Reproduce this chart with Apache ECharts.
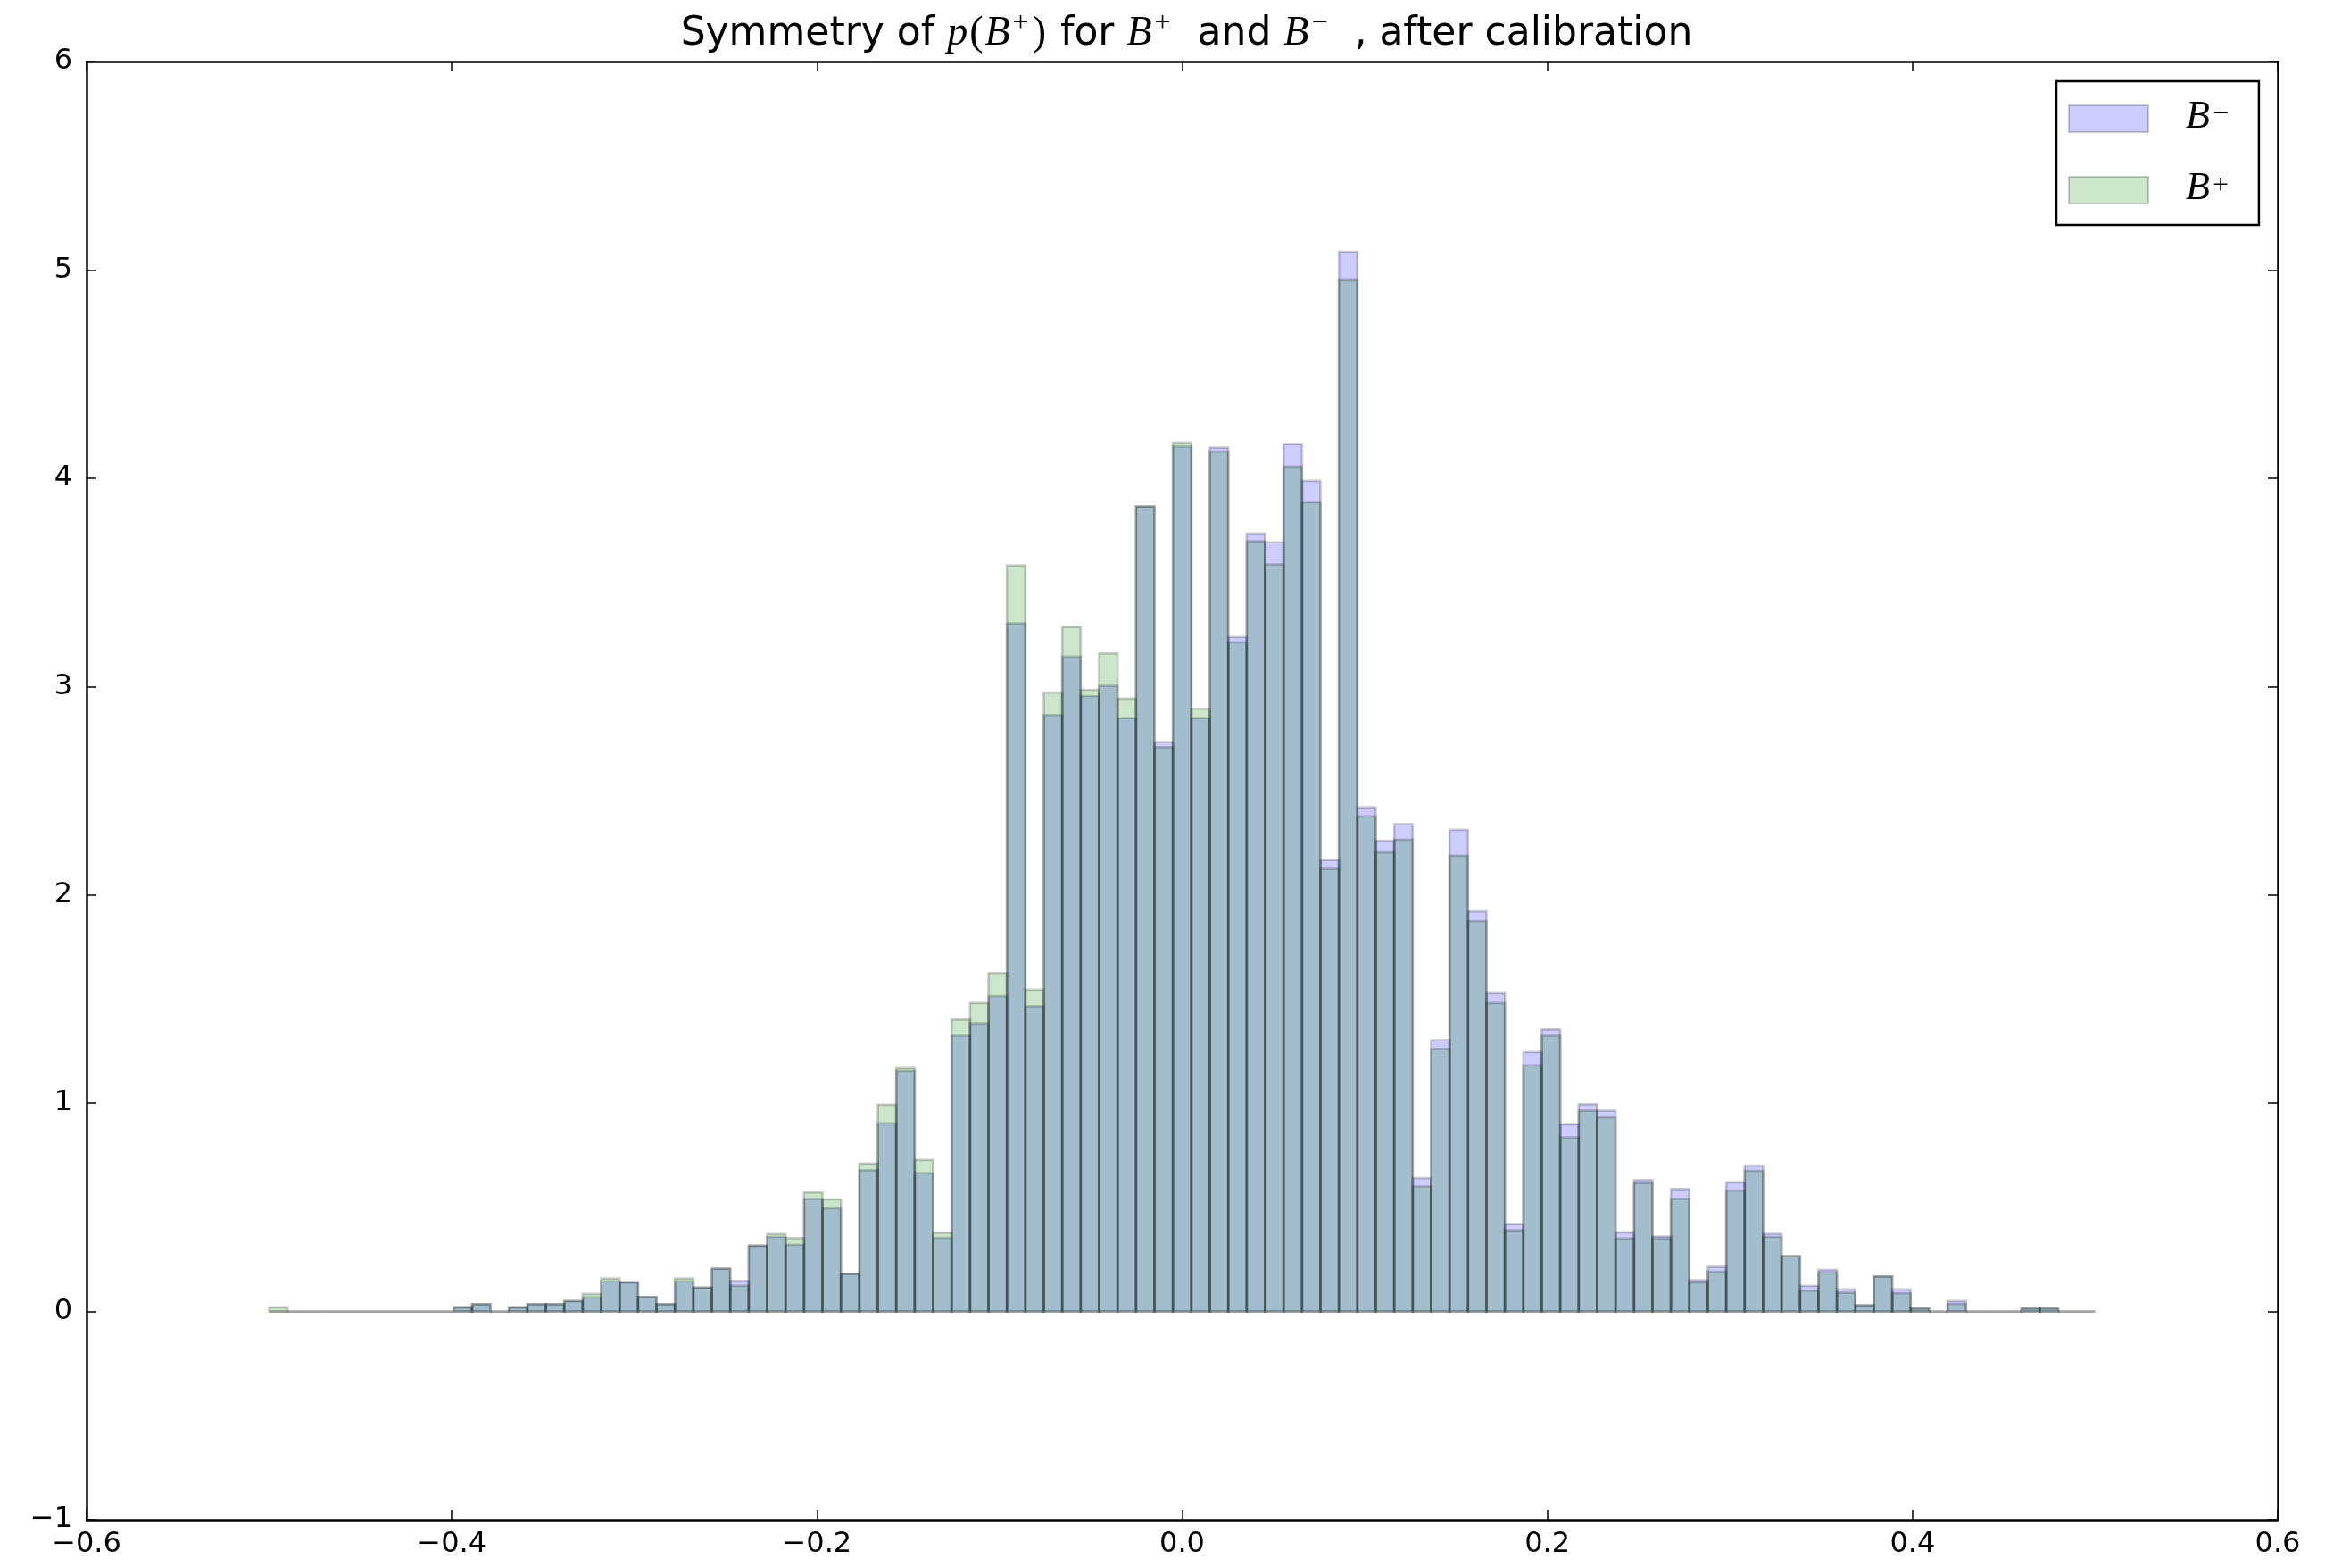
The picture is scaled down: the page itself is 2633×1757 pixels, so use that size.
<!DOCTYPE html>
<html>
<head>
<meta charset="utf-8">
<script src="https://cdn.jsdelivr.net/npm/echarts@6/dist/echarts.min.js"></script>
<style>
  html, body { margin: 0; padding: 0; background: #fff; }
  #chart { width: 2633px; height: 1757px; }
</style>
</head>
<body>
<div id="chart"></div>
<script>
// Histogram binning: 99 equal bins spanning [-0.5, 0.5]
const binLo = -0.5;
const binHi = 0.5;
const binCount = 99;

// Normalised bin heights (density) for each charge
const bMinus = [
  0, 0, 0, 0, 0, 0, 0, 0, 0, 0,
  0.02, 0.035, 0, 0.02, 0.035, 0.035, 0.05, 0.067, 0.144, 0.14,
  0.07, 0.035, 0.144, 0.115, 0.205, 0.147, 0.316, 0.358, 0.32, 0.54,
  0.496, 0.181, 0.678, 0.903, 1.155, 0.664, 0.353, 1.324, 1.384, 1.514,
  3.303, 1.466, 2.863, 3.143, 2.954, 3.003, 2.848, 3.864, 2.733, 4.152,
  2.848, 4.147, 3.237, 3.734, 3.692, 4.164, 3.987, 2.167, 5.087, 2.420,
  2.260, 2.339, 0.64, 1.302, 2.312, 1.921, 1.528, 0.42, 1.245, 1.355,
  0.898, 0.995, 0.964, 0.38, 0.631, 0.36, 0.588, 0.15, 0.214, 0.62,
  0.70, 0.373, 0.265, 0.123, 0.2, 0.106, 0.03, 0.168, 0.106, 0.015,
  0, 0.05, 0, 0, 0, 0.015, 0.015, 0, 0
];
const bPlus = [
  0.02, 0, 0, 0, 0, 0, 0, 0, 0, 0,
  0.02, 0.035, 0, 0.02, 0.035, 0.035, 0.05, 0.084, 0.158, 0.14,
  0.07, 0.035, 0.158, 0.115, 0.205, 0.123, 0.316, 0.372, 0.352, 0.572,
  0.538, 0.181, 0.71, 0.993, 1.168, 0.727, 0.378, 1.402, 1.481, 1.625,
  3.581, 1.545, 2.971, 3.286, 2.984, 3.158, 2.942, 3.864, 2.708, 4.171,
  2.893, 4.127, 3.212, 3.697, 3.586, 4.056, 3.884, 2.125, 4.951, 2.376,
  2.204, 2.265, 0.60, 1.260, 2.188, 1.874, 1.481, 0.39, 1.181, 1.324,
  0.835, 0.964, 0.931, 0.35, 0.617, 0.35, 0.541, 0.14, 0.19, 0.58,
  0.675, 0.358, 0.265, 0.10, 0.187, 0.09, 0.03, 0.168, 0.087, 0.015,
  0, 0.036, 0, 0, 0, 0.015, 0.015, 0, 0
];

const xTicks = { min: -0.6, max: 0.6, step: 0.2 };
const yTicks = { min: -1, max: 6, step: 1 };

const seriesNames = ['B⁻', 'B⁺'];

function toBins(values) {
  const w = (binHi - binLo) / binCount;
  return values.map((v, k) => [binLo + k * w, binLo + (k + 1) * w, v]);
}

const fills = ['rgba(0,0,255,0.2)', 'rgba(0,128,0,0.2)'];
const edge = 'rgba(0,0,0,0.2)';
const edgeWidth = 2.7;

function histSeries(name, values, fill) {
  return {
    name: name,
    type: 'custom',
    xAxisIndex: 0,
    yAxisIndex: 0,
    data: toBins(values),
    encode: { x: [0, 1], y: 2 },
    itemStyle: { color: fill, borderColor: edge, borderWidth: edgeWidth },
    renderItem: function (params, api) {
      const top = api.coord([api.value(0), api.value(2)]);
      const bot = api.coord([api.value(1), 0]);
      return {
        type: 'rect',
        shape: { x: top[0], y: top[1], width: bot[0] - top[0], height: bot[1] - top[1] },
        style: { fill: fill, stroke: edge, lineWidth: edgeWidth }
      };
    },
    animation: false
  };
}

const minus = s => String(s).replace('-', '\u2212');
const tickFont = { fontFamily: 'DejaVu Sans', fontSize: 32, color: '#000' };
const frameLine = { show: true, onZero: false, lineStyle: { color: '#000', width: 2.5 } };
const tickStyle = { show: true, inside: true, length: 11, lineStyle: { color: '#000', width: 1.5 } };

function xAxis(pos, labels) {
  return {
    type: 'value', position: pos,
    min: xTicks.min, max: xTicks.max, interval: xTicks.step,
    axisLine: frameLine, axisTick: tickStyle, splitLine: { show: false },
    axisLabel: Object.assign({ show: labels, margin: 12,
      formatter: v => minus(v.toFixed(1)) }, tickFont)
  };
}
function yAxis(pos, labels) {
  return {
    type: 'value', position: pos,
    min: yTicks.min, max: yTicks.max, interval: yTicks.step,
    axisLine: frameLine, axisTick: tickStyle, splitLine: { show: false },
    axisLabel: Object.assign({ show: labels, margin: 16,
      formatter: v => minus(Math.round(v)) }, tickFont)
  };
}

const mathFont = 'Liberation Serif';
const plain = { fontFamily: 'DejaVu Sans', fontWeight: 'normal', fontSize: 44, color: '#000', lineHeight: 50, verticalAlign: 'bottom' };
const mathIt = { fontFamily: mathFont, fontStyle: 'italic', fontWeight: 'normal', fontSize: 46, color: '#000', lineHeight: 50, verticalAlign: 'bottom' };
const mathUp = { fontFamily: mathFont, fontWeight: 'normal', fontSize: 46, color: '#000', lineHeight: 50, verticalAlign: 'bottom', padding: [0, 2, 0, 2] };
const mathSup = { fontFamily: mathFont, fontWeight: 'normal', fontSize: 32, color: '#000', lineHeight: 50, verticalAlign: 'top', padding: [0, 2, 0, 3] };

const chart = echarts.init(document.getElementById('chart'), null, { renderer: 'canvas' });
chart.setOption({
  backgroundColor: '#fff',
  animation: false,
  title: {
    text: '{a|Symmetry of }{m|p}{r|(}{m|B}{s|+}{r|)}{a| for }{m|B}{s|+}{a|  and }{m|B}{s|−}{a|  , after calibration}',
    left: 1324.5,
    textAlign: 'center',
    top: 6,
    textStyle: {
      fontWeight: 'normal',
      rich: { a: plain, m: mathIt, r: mathUp, s: mathSup }
    }
  },
  legend: {
    orient: 'vertical',
    left: 2304,
    top: 91,
    padding: [18, 34, 19, 13],
    borderColor: '#000',
    borderWidth: 2.5,
    backgroundColor: '#fff',
    itemWidth: 89,
    itemHeight: 30,
    itemGap: 36,
    data: seriesNames.map((n, i) => ({
      name: n, icon: 'rect',
      itemStyle: { color: fills[i], borderColor: edge, borderWidth: 2 }
    })),
    formatter: n => '{b|B}{s|' + (n === 'B⁻' ? '−' : '+') + '}',
    textStyle: {
      padding: [0, 0, 0, 37],
      lineHeight: 40,
      rich: {
        b: { fontFamily: mathFont, fontStyle: 'italic', fontSize: 44, color: '#000', lineHeight: 40, verticalAlign: 'bottom' },
        s: { fontFamily: mathFont, fontSize: 32, color: '#000', lineHeight: 40, verticalAlign: 'top', padding: [0, 0, 0, 3] }
      }
    }
  },
  grid: { left: 97, right: 81, top: 69, bottom: 54, containLabel: false },
  xAxis: [xAxis('bottom', true), xAxis('top', false)],
  yAxis: [yAxis('left', true), yAxis('right', false)],
  series: [
    histSeries(seriesNames[0], bMinus, fills[0]),
    histSeries(seriesNames[1], bPlus, fills[1])
  ]
});
</script>
</body>
</html>
